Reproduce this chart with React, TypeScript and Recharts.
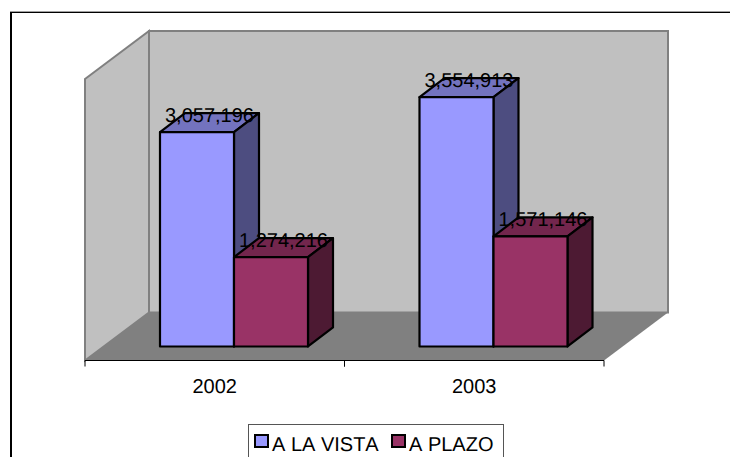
import { Bar, BarChart, Customized, LabelList, Legend, XAxis, YAxis } from 'recharts'

const categories = ['2002', '2003']
const vista = [3057196, 3554913]
const plazo = [1274216, 1571146]
const seriesNames = ['A LA VISTA', 'A PLAZO']

const data = categories.map((year, i) => ({
  year,
  vista: vista[i],
  plazo: plazo[i],
}))

const FONT = '"Liberation Sans", Arial, sans-serif'
const WIDTH = 730
const HEIGHT = 457
const margin = { top: 79, right: 126, bottom: 66.5, left: 85 }
const AXIS_HEIGHT = 30

// floor depth of the fake 3D box
const WALL_DX = 64
const WALL_DY = 48
// depth of each bar, and how far bars sit behind the front edge of the floor
const BAR_DX = 25
const BAR_DY = 19
const BAR_SHIFT = 19.5
// recharts hands custom ticks a y already moved down by tick size + margin
const TICK_OFFSET = 8

const plotLeft = margin.left
const plotRight = WIDTH - margin.right
const plotTop = margin.top
const plotBottom = HEIGHT - margin.bottom - AXIS_HEIGHT
const bandWidth = (plotRight - plotLeft) / categories.length

const Walls = () => (
  <g>
    <line x1={10} x2={WIDTH} y1={11.5} y2={11.5} stroke="#a0a0a0" />
    <line x1={10} x2={WIDTH} y1={12.5} y2={12.5} stroke="#000" />
    <line x1={11} x2={11} y1={12} y2={HEIGHT} stroke="#000" strokeWidth={2} />
    <polygon
      points={`${plotLeft},${plotTop} ${plotLeft + WALL_DX},${plotTop - WALL_DY} ${plotLeft + WALL_DX},${plotBottom - WALL_DY} ${plotLeft},${plotBottom}`}
      fill="#c0c0c0"
      stroke="#808080"
      strokeWidth={2}
    />
    <polygon
      points={`${plotLeft + WALL_DX},${plotTop - WALL_DY} ${plotRight + WALL_DX},${plotTop - WALL_DY} ${plotRight + WALL_DX},${plotBottom - WALL_DY} ${plotLeft + WALL_DX},${plotBottom - WALL_DY}`}
      fill="#c0c0c0"
      stroke="#808080"
      strokeWidth={2}
    />
    <polygon
      points={`${plotLeft},${plotBottom} ${plotRight},${plotBottom} ${plotRight + WALL_DX},${plotBottom - WALL_DY} ${plotLeft + WALL_DX},${plotBottom - WALL_DY}`}
      fill="#808080"
    />
    <line x1={plotLeft} x2={plotRight} y1={plotBottom} y2={plotBottom} stroke="#000" />
  </g>
)

const Box3D = ({ x, y, width, height, front, top, side }: any) => {
  const left = x + BAR_SHIFT
  const right = left + width
  const bottom = y + height
  return (
    <g stroke="#000" strokeWidth={2.2} strokeLinejoin="round">
      <polygon
        points={`${left},${y} ${left + BAR_DX},${y - BAR_DY} ${right + BAR_DX},${y - BAR_DY} ${right},${y}`}
        fill={top}
      />
      <polygon
        points={`${right},${y} ${right + BAR_DX},${y - BAR_DY} ${right + BAR_DX},${bottom - BAR_DY} ${right},${bottom}`}
        fill={side}
      />
      <rect x={left} y={y} width={width} height={height} fill={front} />
    </g>
  )
}

const BarValue = ({ x, y, width, value }: any) => (
  <text
    x={x + BAR_SHIFT + width / 2 + BAR_DX / 2}
    y={y - 10}
    textAnchor="middle"
    fontFamily={FONT}
    fontSize={20}
    fill="#000"
    style={{ textRendering: 'geometricPrecision' }}
  >
    {Number(value).toLocaleString('en-US')}
  </text>
)

const YearTick = ({ x, y, payload }: any) => {
  const axisY = y - TICK_OFFSET
  return (
    <g>
      <line x1={x - bandWidth / 2} x2={x - bandWidth / 2} y1={axisY} y2={axisY + 6} stroke="#000" />
      <line x1={x + bandWidth / 2} x2={x + bandWidth / 2} y1={axisY} y2={axisY + 6} stroke="#000" />
      <text
        x={x}
        y={axisY + 32}
        textAnchor="middle"
        fontFamily={FONT}
        fontSize={20}
        fill="#000"
        style={{ textRendering: 'geometricPrecision' }}
      >
        {payload.value}
      </text>
    </g>
  )
}

const LegendBox = () => (
  <div
    style={{
      boxSizing: 'border-box',
      width: 256,
      height: 40,
      border: '1px solid #555',
      background: '#fff',
      position: 'relative',
      fontFamily: FONT,
      fontSize: 20,
      lineHeight: '23px',
      color: '#000',
      textRendering: 'geometricPrecision',
      fontKerning: 'none',
    }}
  >
    {seriesNames.map((name, i) => (
      <div key={name}>
        <div
          style={{
            position: 'absolute',
            boxSizing: 'border-box',
            left: i === 0 ? 5 : 142,
            top: 9,
            width: 15,
            height: 14,
            border: '2px solid #000',
            background: i === 0 ? '#9999ff' : '#993366',
          }}
        />
        <span
          style={{
            position: 'absolute',
            left: i === 0 ? 23 : 160,
            top: 9,
            whiteSpace: 'nowrap',
          }}
        >
          {name}
        </span>
      </div>
    ))}
  </div>
)

export default function App() {
  return (
    <div
      style={{
        position: 'absolute',
        left: 0,
        top: 0,
        width: WIDTH,
        height: HEIGHT,
        overflow: 'hidden',
        background: '#fff',
      }}
    >
      <BarChart
        width={WIDTH}
        height={HEIGHT}
        data={data}
        margin={margin}
        barCategoryGap={55.5}
        barGap={0}
      >
        <Customized component={<Walls />} />
        <XAxis
          dataKey="year"
          height={AXIS_HEIGHT}
          axisLine={false}
          tickLine={false}
          tick={<YearTick />}
          interval={0}
        />
        <YAxis hide domain={[-200000, 3814286]} />
        <Bar
          dataKey="vista"
          name={seriesNames[0]}
          isAnimationActive={false}
          shape={(props: any) => (
            <Box3D {...props} front="#9999ff" top="#7373bf" side="#4d4d80" />
          )}
        >
          <LabelList dataKey="vista" content={<BarValue />} />
        </Bar>
        <Bar
          dataKey="plazo"
          name={seriesNames[1]}
          isAnimationActive={false}
          shape={(props: any) => (
            <Box3D {...props} front="#993366" top="#73264d" side="#4d1a33" />
          )}
        >
          <LabelList dataKey="plazo" content={<BarValue />} />
        </Bar>
        <Legend
          layout="horizontal"
          verticalAlign="middle"
          align="center"
          content={<LegendBox />}
          wrapperStyle={{ position: 'absolute', left: 248, top: 424, width: 256, height: 40 }}
        />
      </BarChart>
    </div>
  )
}
